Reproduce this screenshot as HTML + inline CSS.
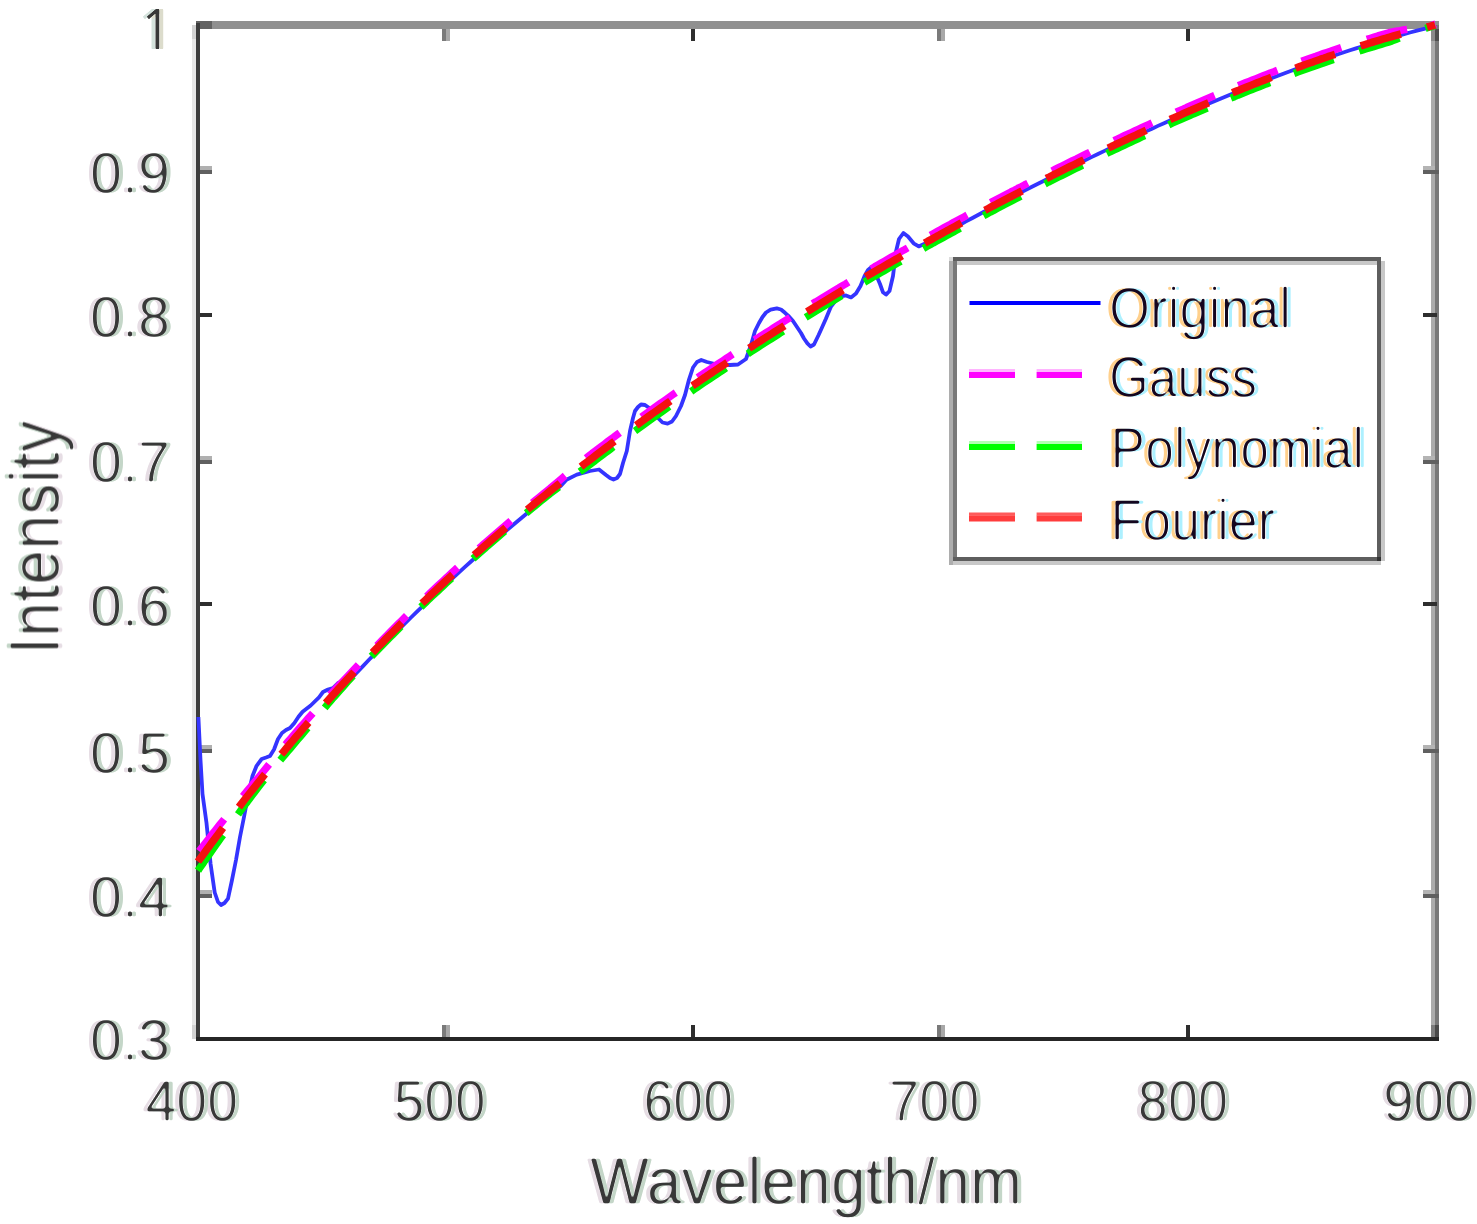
<!DOCTYPE html>
<html><head><meta charset="utf-8"><title>Intensity vs Wavelength</title>
<style>
html,body{margin:0;padding:0;background:#fff;}
body{width:1477px;height:1224px;overflow:hidden;}
svg{display:block;font-family:"Liberation Sans",Arial,sans-serif;}
text{stroke:none;}
.tk{font-size:57.6px;fill:#3a3a3a;stroke-width:1.3px;}
.ax{font-size:67px;fill:#404040;stroke-width:1.9px;}
.lg{font-size:56.8px;fill:#14061f;stroke-width:1.1px;}
</style></head><body>
<svg width="1477" height="1224" viewBox="0 0 1477 1224">
<rect width="1477" height="1224" fill="#fff"/>
<defs>
<filter id="ctL" x="-4%" y="-15%" width="108%" height="130%" color-interpolation-filters="sRGB">
<feGaussianBlur in="SourceAlpha" stdDeviation="0.8" result="b"/>
<feComponentTransfer in="b" result="thin"><feFuncA type="linear" slope="4" intercept="-2.45"/></feComponentTransfer>
<feFlood flood-color="#14061f" result="fc"/><feComposite in="fc" in2="thin" operator="in" result="glyph"/>
<feFlood flood-color="#ffd08c" result="fl"/><feComposite in="fl" in2="thin" operator="in" result="l0"/><feOffset in="l0" dx="-4" dy="0" result="l1"/>
<feFlood flood-color="#adf0ff" result="fr"/><feComposite in="fr" in2="thin" operator="in" result="r0"/><feOffset in="r0" dx="4" dy="0" result="r1"/>
<feMerge><feMergeNode in="l1"/><feMergeNode in="r1"/><feMergeNode in="glyph"/></feMerge>
</filter>
<filter id="ctT" x="-8%" y="-15%" width="116%" height="130%" color-interpolation-filters="sRGB">
<feGaussianBlur in="SourceAlpha" stdDeviation="0.9" result="b"/>
<feComponentTransfer in="b" result="thin"><feFuncA type="linear" slope="4" intercept="-2.35"/></feComponentTransfer>
<feFlood flood-color="#383838" result="fc"/><feComposite in="fc" in2="thin" operator="in" result="glyph"/>
<feFlood flood-color="#e6dde4" result="fl"/><feComposite in="fl" in2="thin" operator="in" result="l0"/><feOffset in="l0" dx="-4" dy="0" result="l1"/>
<feFlood flood-color="#c4d6c8" result="fr"/><feComposite in="fr" in2="thin" operator="in" result="r0"/><feOffset in="r0" dx="4" dy="0" result="r1"/>
<feMerge><feMergeNode in="l1"/><feMergeNode in="r1"/><feMergeNode in="glyph"/></feMerge>
</filter>
<filter id="ctV" x="-4%" y="-20%" width="108%" height="140%" color-interpolation-filters="sRGB">
<feGaussianBlur in="SourceAlpha" stdDeviation="0.9" result="b"/>
<feComponentTransfer in="b" result="thin"><feFuncA type="linear" slope="4" intercept="-2.35"/></feComponentTransfer>
<feFlood flood-color="#383838" result="fc"/><feComposite in="fc" in2="thin" operator="in" result="glyph"/>
<feFlood flood-color="#e6dde4" result="fl"/><feComposite in="fl" in2="thin" operator="in" result="l0"/><feOffset in="l0" dx="0" dy="4" result="l1"/>
<feFlood flood-color="#c4d6c8" result="fr"/><feComposite in="fr" in2="thin" operator="in" result="r0"/><feOffset in="r0" dx="0" dy="-4" result="r1"/>
<feMerge><feMergeNode in="l1"/><feMergeNode in="r1"/><feMergeNode in="glyph"/></feMerge>
</filter>
<filter id="ct1" x="-60%" y="-15%" width="220%" height="130%" color-interpolation-filters="sRGB">
<feGaussianBlur in="SourceAlpha" stdDeviation="0.3" result="b"/>
<feComponentTransfer in="b" result="thin"><feFuncA type="linear" slope="1.3" intercept="-0.1"/></feComponentTransfer>
<feFlood flood-color="#383838" result="fc"/><feComposite in="fc" in2="thin" operator="in" result="glyph"/>
<feFlood flood-color="#d4e2dc" result="fl"/><feComposite in="fl" in2="thin" operator="in" result="l0"/><feOffset in="l0" dx="-4" dy="0" result="l1"/>
<feFlood flood-color="#dcdccc" result="fr"/><feComposite in="fr" in2="thin" operator="in" result="r0"/><feOffset in="r0" dx="4" dy="0" result="r1"/>
<feMerge><feMergeNode in="l1"/><feMergeNode in="r1"/><feMergeNode in="glyph"/></feMerge>
</filter>
</defs>
<g id="plot" >

<g shape-rendering="crispEdges">
<rect x="198" y="21" width="1241" height="8" fill="#909090"/>
<rect x="196" y="21" width="16" height="8" fill="#636363"/>
<rect x="1431" y="25" width="4" height="1014" fill="#ababab"/>
<rect x="1435" y="25" width="4" height="1016" fill="#787878"/>
<rect x="192" y="25" width="4" height="1014" fill="#e6e6e6"/>
<rect x="196" y="23" width="4" height="1018" fill="#3c3c3c"/>
<rect x="196" y="1037" width="1243" height="4" fill="#262626"/>
<rect x="1431" y="1025" width="4" height="12" fill="#7c7c7c"/><rect x="1435" y="1025" width="4" height="12" fill="#4a4a4a"/>
<rect x="1431" y="29" width="4" height="12" fill="#8a8a8a"/><rect x="1435" y="29" width="4" height="12" fill="#4e4e4e"/>
<rect x="192" y="1025" width="4" height="14" fill="#d2d2d2"/><rect x="192" y="25" width="4" height="14" fill="#d2d2d2"/>
<rect x="442" y="1025" width="4" height="12" fill="#7a7a7a"/><rect x="446" y="1025" width="4" height="12" fill="#a8a8a8"/>
<rect x="442" y="29" width="4" height="12" fill="#7a7a7a"/><rect x="446" y="29" width="4" height="12" fill="#a8a8a8"/>
<rect x="691" y="1025" width="4" height="12" fill="#2e2e2e"/>
<rect x="691" y="29" width="4" height="12" fill="#2e2e2e"/>
<rect x="937" y="1025" width="4" height="12" fill="#7a7a7a"/><rect x="941" y="1025" width="4" height="12" fill="#a8a8a8"/>
<rect x="937" y="29" width="4" height="12" fill="#7a7a7a"/><rect x="941" y="29" width="4" height="12" fill="#a8a8a8"/>
<rect x="1186" y="1025" width="4" height="12" fill="#2e2e2e"/>
<rect x="1186" y="29" width="4" height="12" fill="#2e2e2e"/>
<rect x="200" y="166" width="12" height="4" fill="#b0b0b0"/><rect x="200" y="170" width="12" height="4" fill="#606060"/>
<rect x="1423" y="166" width="12" height="4" fill="#b4b4b4"/><rect x="1423" y="170" width="16" height="4" fill="#606060"/>
<rect x="200" y="313" width="12" height="4" fill="#2e2e2e"/>
<rect x="1423" y="313" width="14" height="4" fill="#2e2e2e"/>
<rect x="200" y="456" width="12" height="4" fill="#b0b0b0"/><rect x="200" y="460" width="12" height="4" fill="#606060"/>
<rect x="1423" y="456" width="12" height="4" fill="#b4b4b4"/><rect x="1423" y="460" width="16" height="4" fill="#606060"/>
<rect x="200" y="602" width="12" height="4" fill="#2e2e2e"/>
<rect x="1423" y="602" width="14" height="4" fill="#2e2e2e"/>
<rect x="200" y="745" width="12" height="4" fill="#b0b0b0"/><rect x="200" y="749" width="12" height="4" fill="#606060"/>
<rect x="1423" y="745" width="12" height="4" fill="#b4b4b4"/><rect x="1423" y="749" width="16" height="4" fill="#606060"/>
<rect x="200" y="890" width="12" height="4" fill="#b0b0b0"/><rect x="200" y="894" width="12" height="4" fill="#606060"/>
<rect x="1423" y="890" width="12" height="4" fill="#b4b4b4"/><rect x="1423" y="894" width="16" height="4" fill="#606060"/>
</g>
<g fill="none" stroke-linejoin="round">
<path d="M198.4,717.0 L200.5,760.0 L202.5,794.0 L206.5,823.0 L210.6,864.0 L214.7,892.5 L218.0,902.0 L221.0,905.0 L224.5,903.0 L228.0,898.6 L232.0,880.0 L236.0,860.0 L240.0,837.0 L244.0,817.0 L248.4,794.0 L252.5,776.0 L256.6,765.8 L261.7,759.0 L266.0,757.5 L270.0,756.0 L274.0,749.5 L278.0,739.0 L282.0,733.0 L286.0,730.0 L290.0,728.0 L294.4,723.0 L298.5,716.8 L302.6,711.7 L310.7,705.5 L319.0,697.4 L323.0,692.0 L328.0,689.5 L333.0,688.0 L338.0,683.0 L345.0,685.3 L351.0,678.8 L357.0,672.4 L363.0,666.1 L369.0,659.8 L375.0,653.6 L381.0,647.5 L387.0,641.4 L393.0,635.3 L399.0,629.3 L405.0,623.4 L411.0,617.5 L417.0,611.7 L423.0,605.9 L429.0,600.2 L435.0,594.5 L441.0,588.9 L447.0,583.3 L453.0,577.8 L459.0,572.3 L465.0,566.9 L471.0,561.5 L477.0,556.2 L483.0,550.9 L489.0,545.6 L495.0,540.4 L501.0,535.2 L507.0,530.1 L513.0,525.0 L519.0,520.0 L525.0,515.0 L531.0,510.0 L537.0,505.1 L543.0,500.2 L549.0,495.4 L555.0,490.6 L561.0,485.8 L566.5,479.7 L576.8,474.6 L590.0,471.0 L599.0,469.5 L606.0,475.0 L610.0,478.0 L613.5,479.5 L617.0,478.0 L620.0,474.0 L623.0,463.0 L626.8,451.0 L630.0,431.0 L633.0,418.0 L635.0,411.0 L638.0,407.0 L641.0,404.5 L645.0,405.0 L650.0,408.5 L656.0,416.0 L662.5,422.5 L667.6,423.6 L672.0,421.5 L676.0,416.0 L681.0,406.0 L685.0,395.0 L689.0,379.6 L693.0,367.5 L697.0,362.0 L701.3,360.0 L707.0,362.0 L715.0,364.0 L730.0,365.0 L738.0,364.5 L746.0,359.0 L751.0,345.0 L755.0,331.0 L759.0,323.0 L762.5,317.0 L766.0,312.5 L770.6,309.7 L776.8,308.4 L781.0,309.5 L785.0,312.8 L789.0,316.5 L793.0,321.0 L797.0,327.0 L801.0,333.0 L804.0,338.5 L807.4,343.4 L810.5,346.5 L814.0,344.5 L818.6,335.0 L822.0,327.5 L825.8,319.0 L831.0,306.6 L836.0,300.0 L841.0,296.5 L846.0,295.4 L851.0,297.4 L856.0,293.5 L860.5,286.0 L864.6,276.0 L868.0,270.0 L871.0,267.5 L874.0,270.0 L877.0,277.0 L880.0,284.0 L883.0,292.3 L886.0,294.6 L889.5,291.0 L893.0,276.0 L896.0,251.5 L899.0,239.0 L903.4,233.0 L908.0,236.5 L913.6,243.3 L918.7,246.4 L924.0,244.0 L930.0,241.1 L936.0,237.8 L942.0,234.5 L948.0,231.2 L954.0,227.9 L960.0,224.7 L966.0,221.4 L972.0,218.2 L978.0,215.0 L984.0,211.8 L990.0,208.6 L996.0,205.4 L1002.0,202.3 L1008.0,199.2 L1014.0,196.0 L1020.0,192.9 L1026.0,189.8 L1032.0,186.8 L1038.0,183.7 L1044.0,180.7 L1050.0,177.6 L1056.0,174.6 L1062.0,171.6 L1068.0,168.6 L1074.0,165.7 L1080.0,162.7 L1086.0,159.8 L1092.0,156.9 L1098.0,154.0 L1104.0,151.1 L1110.0,148.2 L1116.0,145.4 L1122.0,142.6 L1128.0,139.7 L1134.0,136.9 L1140.0,134.2 L1146.0,131.4 L1152.0,128.7 L1158.0,125.9 L1164.0,123.2 L1170.0,120.5 L1176.0,117.9 L1182.0,115.2 L1188.0,112.6 L1194.0,110.0 L1200.0,107.4 L1206.0,104.8 L1212.0,102.3 L1218.0,99.8 L1224.0,97.3 L1230.0,94.8 L1236.0,92.3 L1242.0,89.9 L1248.0,87.5 L1254.0,85.1 L1260.0,82.7 L1266.0,80.4 L1272.0,78.1 L1278.0,75.8 L1284.0,73.5 L1290.0,71.3 L1296.0,69.0 L1302.0,66.9 L1308.0,64.7 L1314.0,62.6 L1320.0,60.4 L1326.0,58.4 L1332.0,56.3 L1338.0,54.3 L1344.0,52.3 L1350.0,50.3 L1356.0,48.4 L1362.0,46.5 L1368.0,44.6 L1374.0,42.8 L1380.0,41.0 L1386.0,39.2 L1392.0,37.5 L1398.0,35.8 L1404.0,34.1 L1410.0,32.5 L1416.0,30.9 L1422.0,29.3 L1428.0,27.8 L1434.0,26.3 L1435.0,26.0" stroke="#3434ff" stroke-width="3.8"/>
<path d="M199.2,851.2 L201.4,848.2 L203.7,845.3 L205.9,842.4 L208.2,839.5 L210.5,836.5 L212.7,833.6 L215.0,830.7 L217.3,827.8 L219.6,824.9 L221.9,822.1 L224.2,819.2 M242.9,796.2 L245.2,793.3 L247.6,790.5 L250.0,787.7 L252.3,784.8 L254.7,782.0 L257.1,779.2 L259.5,776.3 L261.9,773.3 L264.3,770.3 L266.7,767.4 L269.1,764.4 M285.5,744.6 L287.9,741.7 L290.4,738.8 L292.9,735.9 L295.3,733.0 L297.8,730.1 L300.3,727.2 L302.8,724.4 L305.3,721.6 L307.8,718.8 L310.3,716.1 L312.8,713.3 M330.0,694.7 L332.6,692.0 L335.2,689.3 L337.7,686.6 L340.3,683.9 L342.9,681.2 L345.5,678.5 L348.1,675.8 L350.7,673.1 L353.3,670.3 L355.9,667.5 L358.5,664.7 M377.0,645.5 L379.7,642.7 L382.3,640.0 L385.0,637.3 L387.7,634.6 L390.4,631.8 L393.1,629.1 L395.8,626.4 L398.5,623.7 L401.2,621.1 L403.9,618.4 L406.6,615.7 M426.7,596.3 L429.5,593.6 L432.3,591.0 L435.0,588.4 L437.8,585.8 L440.6,583.2 L443.4,580.6 L446.2,578.0 L449.0,575.4 L451.8,572.8 L454.6,570.2 L457.5,567.6 M479.0,548.3 L481.9,545.8 L484.7,543.2 L487.6,540.7 L490.5,538.2 L493.4,535.7 L496.3,533.2 L499.2,530.7 L502.1,528.2 L505.0,525.8 L507.9,523.3 L510.8,520.8 M532.3,502.8 L535.3,500.4 L538.2,498.0 L541.2,495.6 L544.2,493.2 L547.1,490.8 L550.1,488.4 L553.1,485.8 L556.1,483.3 L559.1,480.8 L562.1,478.2 L565.1,475.7 M586.1,458.2 L589.2,455.7 L592.2,453.3 L595.3,451.0 L598.3,448.7 L601.3,446.4 L604.4,444.1 L607.4,441.8 L610.5,439.5 L613.6,437.3 L616.6,435.0 L619.7,432.7 M641.5,416.9 L644.6,414.6 L647.7,412.4 L650.8,410.2 L653.9,408.0 L657.0,405.8 L660.1,403.6 L663.2,401.4 L666.4,399.2 L669.5,397.0 L672.6,394.8 L675.8,392.6 M697.8,377.5 L700.9,375.3 L704.1,373.2 L707.3,371.1 L710.4,369.0 L713.6,366.8 L716.8,364.7 L720.0,362.6 L723.2,360.5 L726.3,358.4 L729.5,356.3 L732.7,354.2 M754.6,340.0 L757.8,338.0 L761.0,335.9 L764.2,333.9 L767.4,331.8 L770.7,329.8 L773.9,327.7 L777.1,325.7 L780.4,323.7 L783.6,321.6 L786.8,319.6 L790.1,317.6 M812.5,303.7 L815.8,301.8 L819.1,299.8 L822.3,297.8 L825.6,295.8 L828.9,293.8 L832.1,291.9 L835.4,289.9 L838.7,288.0 L842.0,286.0 L845.3,284.1 L848.5,282.1 M871.3,268.8 L874.6,266.8 L877.9,264.9 L881.2,263.0 L884.5,261.1 L887.8,259.2 L891.1,257.3 L894.5,255.4 L897.8,253.5 L901.1,251.6 L904.4,249.8 L907.7,247.9 M930.4,235.2 L933.7,233.4 L937.1,231.5 L940.4,229.7 L943.8,227.8 L947.1,226.0 L950.5,224.2 L953.8,222.3 L957.2,220.5 L960.5,218.7 L963.9,216.9 L967.2,215.1 M990.6,202.6 L994.0,200.8 L997.4,199.0 L1000.8,197.2 L1004.1,195.5 L1007.5,193.7 L1010.9,191.9 L1014.3,190.2 L1017.7,188.4 L1021.1,186.7 L1024.5,184.9 L1027.9,183.2 M1052.1,170.9 L1055.5,169.1 L1059.0,167.4 L1062.4,165.7 L1065.8,164.0 L1069.2,162.3 L1072.6,160.6 L1076.1,159.0 L1079.5,157.3 L1082.9,155.6 L1086.4,153.9 L1089.8,152.2 M1114.0,140.6 L1117.4,139.0 L1120.9,137.4 L1124.4,135.7 L1127.8,134.1 L1131.3,132.5 L1134.7,130.9 L1138.2,129.3 L1141.7,127.7 L1145.1,126.1 L1148.6,124.5 L1152.1,122.9 M1176.1,112.2 L1179.6,110.6 L1183.1,109.1 L1186.6,107.5 L1190.1,106.0 L1193.6,104.5 L1197.1,103.0 L1200.6,101.5 L1204.1,100.0 L1207.6,98.5 L1211.1,97.0 L1214.6,95.5 M1238.3,85.7 L1241.9,84.2 L1245.4,82.8 L1249.0,81.4 L1252.5,80.0 L1256.1,78.6 L1259.6,77.2 L1263.2,75.8 L1266.7,74.4 L1270.3,73.0 L1273.9,71.7 L1277.4,70.3 M1301.6,61.3 L1305.2,60.0 L1308.7,58.7 L1312.3,57.4 L1315.9,56.2 L1319.5,54.9 L1323.2,53.6 L1326.8,52.4 L1330.4,51.2 L1334.0,49.9 L1337.6,48.7 L1341.2,47.5 M1366.8,39.3 L1370.5,38.2 L1374.1,37.1 L1377.8,35.9 L1381.4,34.9 L1385.1,33.8 L1388.8,32.7 L1392.4,31.9 L1396.1,31.2 L1399.8,30.6 L1403.5,29.9 L1407.1,29.3 M1433.3,24.8 L1433.4,24.7 L1433.6,24.7 L1433.7,24.6 L1433.9,24.6 L1434.1,24.6 L1434.2,24.5 L1434.4,24.5 L1434.5,24.4 L1434.7,24.4 L1434.8,24.4 L1435.0,24.3" stroke="#ff00ff" stroke-width="7.4"/>
<path d="M198.0,870.6 L200.2,867.3 L202.5,864.1 L204.7,860.8 L207.0,857.6 L209.3,854.3 L211.5,851.1 L213.8,847.9 L216.1,844.7 L218.4,841.4 L220.7,838.2 L223.0,835.0 M238.0,814.4 L240.3,811.2 L242.6,808.0 L245.0,804.8 L247.4,801.7 L249.7,798.5 L252.1,795.3 L254.5,792.2 L256.9,789.0 L259.2,786.0 L261.6,783.0 L264.0,780.0 M280.3,760.2 L282.8,757.2 L285.2,754.3 L287.7,751.4 L290.2,748.5 L292.6,745.6 L295.1,742.6 L297.6,739.7 L300.1,736.8 L302.6,733.8 L305.1,730.9 L307.6,727.9 M324.7,707.8 L327.2,704.8 L329.8,701.9 L332.3,698.9 L334.9,696.0 L337.5,693.1 L340.1,690.1 L342.7,687.2 L345.2,684.3 L347.8,681.4 L350.4,678.5 L353.0,675.7 M371.4,656.4 L374.1,653.6 L376.8,650.9 L379.4,648.2 L382.1,645.4 L384.8,642.7 L387.5,640.0 L390.1,637.3 L392.8,634.6 L395.5,631.9 L398.2,629.2 L400.9,626.5 M420.9,607.0 L423.7,604.3 L426.5,601.7 L429.2,599.0 L432.0,596.4 L434.8,593.8 L437.6,591.2 L440.4,588.6 L443.1,586.0 L445.9,583.4 L448.7,580.8 L451.6,578.2 M473.0,558.8 L475.9,556.2 L478.7,553.7 L481.6,551.2 L484.5,548.7 L487.3,546.1 L490.2,543.6 L493.1,541.1 L496.0,538.6 L498.9,536.1 L501.8,533.7 L504.7,531.2 M526.2,513.1 L529.1,510.7 L532.1,508.2 L535.0,505.8 L538.0,503.4 L540.9,501.0 L543.9,498.6 L546.9,496.2 L549.8,493.8 L552.8,491.6 L555.8,489.3 L558.8,487.1 M579.8,471.7 L582.8,469.6 L585.9,467.4 L588.9,465.2 L591.9,463.0 L595.0,460.7 L598.0,458.3 L601.1,456.0 L604.1,453.7 L607.2,451.5 L610.2,449.2 L613.3,446.9 M635.0,430.9 L638.1,428.7 L641.2,426.5 L644.3,424.2 L647.4,422.0 L650.5,419.8 L653.6,417.6 L656.7,415.4 L659.8,413.2 L662.9,411.0 L666.1,408.8 L669.2,406.6 M691.2,391.4 L694.3,389.2 L697.5,387.1 L700.6,385.0 L703.8,382.8 L707.0,380.7 L710.1,378.6 L713.3,376.4 L716.5,374.3 L719.7,372.2 L722.9,370.1 L726.0,368.0 M747.8,353.8 L751.0,351.7 L754.3,349.6 L757.5,347.6 L760.7,345.5 L763.9,343.4 L767.1,341.4 L770.4,339.4 L773.6,337.3 L776.8,335.3 L780.0,333.2 L783.3,331.2 M805.7,317.3 L809.0,315.3 L812.2,313.3 L815.5,311.3 L818.8,309.4 L822.0,307.4 L825.3,305.4 L828.6,303.4 L831.8,301.5 L835.1,299.5 L838.4,297.5 L841.7,295.6 M864.4,282.2 L867.7,280.3 L871.0,278.3 L874.3,276.4 L877.6,274.5 L880.9,272.6 L884.2,270.7 L887.5,268.8 L890.8,266.9 L894.1,265.0 L897.5,263.1 L900.8,261.2 M923.4,248.5 L926.7,246.6 L930.1,244.8 L933.4,242.9 L936.7,241.1 L940.1,239.2 L943.4,237.4 L946.8,235.6 L950.1,233.7 L953.5,231.9 L956.8,230.1 L960.2,228.3 M983.6,215.7 L986.9,213.9 L990.3,212.1 L993.7,210.4 L997.1,208.6 L1000.4,206.8 L1003.8,205.0 L1007.2,203.3 L1010.6,201.5 L1014.0,199.7 L1017.4,198.0 L1020.8,196.2 M1045.0,183.9 L1048.4,182.1 L1051.8,180.4 L1055.2,178.7 L1058.6,177.0 L1062.1,175.3 L1065.5,173.6 L1068.9,171.9 L1072.3,170.2 L1075.7,168.5 L1079.2,166.8 L1082.6,165.2 M1106.8,153.5 L1110.2,151.8 L1113.7,150.2 L1117.1,148.6 L1120.6,146.9 L1124.0,145.3 L1127.5,143.7 L1130.9,142.1 L1134.4,140.5 L1137.9,138.8 L1141.3,137.2 L1144.8,135.7 M1168.8,124.8 L1172.2,123.2 L1175.7,121.7 L1179.2,120.2 L1182.7,118.6 L1186.2,117.1 L1189.7,115.6 L1193.2,114.0 L1196.7,112.5 L1200.2,111.0 L1203.7,109.5 L1207.3,108.0 M1230.9,98.1 L1234.5,96.7 L1238.0,95.2 L1241.6,93.8 L1245.1,92.4 L1248.6,90.9 L1252.2,89.5 L1255.7,88.1 L1259.3,86.7 L1262.8,85.3 L1266.4,83.9 L1270.0,82.6 M1294.0,73.5 L1297.6,72.1 L1301.2,70.8 L1304.8,69.5 L1308.4,68.2 L1312.0,67.0 L1315.6,65.7 L1319.2,64.4 L1322.8,63.2 L1326.4,61.9 L1330.0,60.7 L1333.6,59.5 M1359.2,51.1 L1362.8,49.9 L1366.5,48.8 L1370.1,47.7 L1373.8,46.6 L1377.4,45.5 L1381.1,44.4 L1384.7,43.3 L1388.4,42.2 L1392.1,40.9 L1395.7,39.5 L1399.4,38.1 M1425.5,28.4 L1426.4,28.1 L1427.2,27.8 L1428.1,27.5 L1429.0,27.2 L1429.8,27.0 L1430.7,26.8 L1431.5,26.6 L1432.4,26.4 L1433.3,26.2 L1434.1,26.0 L1435.0,25.7" stroke="#00f000" stroke-width="7.4"/>
<path d="M198.0,861.6 L200.2,858.5 L202.5,855.4 L204.7,852.4 L207.0,849.3 L209.3,846.2 L211.5,843.1 L213.8,840.1 L216.1,837.0 L218.4,833.9 L220.7,830.9 L223.0,827.8 M238.9,807.1 L241.2,804.1 L243.6,801.0 L245.9,798.0 L248.3,795.0 L250.7,792.0 L253.0,789.1 L255.4,786.1 L257.8,783.1 L260.2,780.1 L262.6,777.1 L265.0,774.2 M281.3,754.3 L283.8,751.4 L286.2,748.5 L288.7,745.5 L291.1,742.6 L293.6,739.7 L296.1,736.8 L298.6,733.9 L301.1,731.0 L303.6,728.1 L306.1,725.2 L308.6,722.4 M325.7,703.0 L328.2,700.2 L330.8,697.3 L333.4,694.5 L335.9,691.7 L338.5,688.8 L341.1,686.0 L343.7,683.2 L346.3,680.4 L348.9,677.6 L351.5,674.8 L354.1,672.0 M372.5,652.7 L375.1,650.0 L377.8,647.2 L380.5,644.5 L383.1,641.8 L385.8,639.0 L388.5,636.3 L391.2,633.6 L393.9,630.9 L396.6,628.2 L399.3,625.5 L402.0,622.8 M422.0,603.3 L424.8,600.7 L427.6,598.1 L430.3,595.4 L433.1,592.8 L435.9,590.2 L438.7,587.6 L441.4,585.0 L444.2,582.4 L447.0,579.8 L449.8,577.2 L452.7,574.6 M474.1,555.2 L477.0,552.7 L479.9,550.1 L482.7,547.6 L485.6,545.1 L488.5,542.6 L491.3,540.1 L494.2,537.6 L497.1,535.1 L500.0,532.6 L502.9,530.1 L505.8,527.6 M527.3,509.6 L530.3,507.1 L533.2,504.7 L536.2,502.3 L539.1,499.9 L542.1,497.5 L545.1,495.1 L548.0,492.7 L551.0,490.3 L554.0,487.9 L557.0,485.5 L560.0,483.1 M581.0,466.7 L584.0,464.3 L587.1,462.0 L590.1,459.7 L593.1,457.4 L596.2,455.0 L599.2,452.7 L602.2,450.4 L605.3,448.1 L608.4,445.9 L611.4,443.6 L614.5,441.3 M636.2,425.4 L639.3,423.1 L642.4,420.9 L645.5,418.7 L648.6,416.4 L651.7,414.2 L654.8,412.0 L657.9,409.8 L661.0,407.6 L664.2,405.4 L667.3,403.2 L670.4,401.0 M692.4,385.8 L695.6,383.7 L698.7,381.6 L701.9,379.4 L705.1,377.3 L708.2,375.1 L711.4,373.0 L714.6,370.9 L717.7,368.8 L720.9,366.7 L724.1,364.6 L727.3,362.5 M749.1,348.2 L752.3,346.2 L755.5,344.1 L758.7,342.1 L761.9,340.0 L765.2,337.9 L768.4,335.9 L771.6,333.9 L774.8,331.8 L778.1,329.8 L781.3,327.8 L784.5,325.7 M807.0,311.8 L810.3,309.8 L813.5,307.8 L816.8,305.9 L820.0,303.9 L823.3,301.9 L826.6,299.9 L829.8,298.0 L833.1,296.0 L836.4,294.0 L839.7,292.1 L843.0,290.1 M865.7,276.7 L869.0,274.8 L872.3,272.9 L875.6,271.0 L878.9,269.1 L882.2,267.2 L885.5,265.3 L888.8,263.4 L892.1,261.5 L895.4,259.6 L898.8,257.7 L902.1,255.8 M924.7,243.1 L928.0,241.2 L931.4,239.4 L934.7,237.5 L938.1,235.7 L941.4,233.8 L944.7,232.0 L948.1,230.2 L951.4,228.3 L954.8,226.5 L958.2,224.7 L961.5,222.9 M984.9,210.3 L988.3,208.5 L991.6,206.7 L995.0,205.0 L998.4,203.2 L1001.8,201.4 L1005.2,199.6 L1008.5,197.9 L1011.9,196.1 L1015.3,194.3 L1018.7,192.6 L1022.1,190.8 M1046.3,178.5 L1049.7,176.8 L1053.1,175.0 L1056.6,173.3 L1060.0,171.6 L1063.4,169.9 L1066.8,168.2 L1070.2,166.5 L1073.7,164.8 L1077.1,163.2 L1080.5,161.5 L1083.9,159.8 M1108.1,148.1 L1111.6,146.5 L1115.0,144.8 L1118.5,143.2 L1121.9,141.6 L1125.4,140.0 L1128.8,138.3 L1132.3,136.7 L1135.8,135.1 L1139.2,133.5 L1142.7,131.9 L1146.2,130.3 M1170.1,119.5 L1173.6,117.9 L1177.1,116.4 L1180.6,114.9 L1184.1,113.3 L1187.6,111.8 L1191.1,110.3 L1194.6,108.7 L1198.1,107.2 L1201.6,105.7 L1205.1,104.2 L1208.6,102.7 M1232.3,92.8 L1235.9,91.4 L1239.4,90.0 L1242.9,88.5 L1246.5,87.1 L1250.0,85.7 L1253.6,84.3 L1257.1,82.9 L1260.7,81.5 L1264.2,80.1 L1267.8,78.7 L1271.4,77.3 M1295.5,68.2 L1299.0,66.9 L1302.6,65.6 L1306.2,64.3 L1309.8,63.0 L1313.4,61.8 L1317.0,60.5 L1320.6,59.2 L1324.2,58.0 L1327.8,56.7 L1331.4,55.5 L1335.1,54.3 M1360.6,45.9 L1364.3,44.8 L1367.9,43.7 L1371.5,42.5 L1375.2,41.4 L1378.9,40.3 L1382.5,39.2 L1386.2,38.2 L1389.8,37.1 L1393.5,36.0 L1397.2,35.0 L1400.9,34.0 M1427.0,27.0 L1427.7,26.8 L1428.4,26.7 L1429.2,26.5 L1429.9,26.3 L1430.6,26.1 L1431.3,25.9 L1432.1,25.8 L1432.8,25.6 L1433.5,25.4 L1434.3,25.2 L1435.0,25.0" stroke="#f41010" stroke-width="7.6"/>
</g>
<g>
<g shape-rendering="crispEdges">
<rect x="953" y="257" width="428" height="304" fill="#fff"/>
<rect x="949" y="261" width="4" height="304" fill="#adadad"/>
<rect x="949" y="257" width="4" height="4" fill="#dcdcdc"/>
<rect x="953" y="261" width="4" height="300" fill="#787878"/>
<rect x="957" y="261" width="420" height="4" fill="#c8c8c8"/>
<rect x="953" y="257" width="428" height="4" fill="#5e5e5e"/>
<rect x="1381" y="261" width="4" height="300" fill="#c8c8c8"/>
<rect x="1377" y="261" width="4" height="300" fill="#5e5e5e"/>
<rect x="953" y="561" width="428" height="4" fill="#c8c8c8"/>
<rect x="953" y="557" width="428" height="4" fill="#5e5e5e"/>
<rect x="1377" y="557" width="4" height="4" fill="#333"/>
</g>
<line x1="969.5" y1="303" x2="1100.5" y2="303" stroke="#0000ff" stroke-width="4.2"/>
<rect x="969" y="369" width="46.0" height="3.2" fill="#ffb4ff"/><rect x="969" y="372" width="46.0" height="6" fill="#ff00ff"/>
<rect x="1036.6" y="369" width="45.4" height="3.2" fill="#ffb4ff"/><rect x="1036.6" y="372" width="45.4" height="6" fill="#ff00ff"/>
<rect x="969" y="441" width="46.0" height="3.2" fill="#b4ffb4"/><rect x="969" y="444" width="46.0" height="6" fill="#00ff00"/>
<rect x="1036.6" y="441" width="45.4" height="3.2" fill="#b4ffb4"/><rect x="1036.6" y="444" width="45.4" height="6" fill="#00ff00"/>
<rect x="969" y="512.5" width="46.0" height="3.2" fill="#ff5a5a"/><rect x="969" y="515.5" width="46.0" height="6" fill="#ff3c3c"/>
<rect x="1036.6" y="512.5" width="45.4" height="3.2" fill="#ff5a5a"/><rect x="1036.6" y="515.5" width="45.4" height="6" fill="#ff3c3c"/>
<text class="lg" filter="url(#ctL)" x="1109" y="328.4" textLength="182" lengthAdjust="spacingAndGlyphs">Original</text>
<text class="lg" filter="url(#ctL)" x="1109" y="396.6" textLength="148" lengthAdjust="spacingAndGlyphs">Gauss</text>
<text class="lg" filter="url(#ctL)" x="1110.6" y="467.5" textLength="253.4000000000001" lengthAdjust="spacingAndGlyphs">Polynomial</text>
<text class="lg" filter="url(#ctL)" x="1110.6" y="539.6" textLength="164.4000000000001" lengthAdjust="spacingAndGlyphs">Fourier</text>
</g>
<text class="tk" filter="url(#ctT)" x="145.5" y="1121" textLength="92.5" lengthAdjust="spacingAndGlyphs">400</text>
<text class="tk" filter="url(#ctT)" x="393.7" y="1121" textLength="91.80000000000001" lengthAdjust="spacingAndGlyphs">500</text>
<text class="tk" filter="url(#ctT)" x="643.5" y="1121" textLength="89.5" lengthAdjust="spacingAndGlyphs">600</text>
<text class="tk" filter="url(#ctT)" x="889.0" y="1121" textLength="90.5" lengthAdjust="spacingAndGlyphs">700</text>
<text class="tk" filter="url(#ctT)" x="1137.8" y="1121" textLength="90.29999999999995" lengthAdjust="spacingAndGlyphs">800</text>
<text class="tk" filter="url(#ctT)" x="1383.2" y="1121" textLength="91.29999999999995" lengthAdjust="spacingAndGlyphs">900</text>
<text class="tk" filter="url(#ct1)" style="font-family:NanumGothic,'Liberation Sans',sans-serif;font-size:53.5px;stroke-width:0.5px" x="172" y="49" text-anchor="end">1</text>
<text class="tk" filter="url(#ctT)" x="90" y="193" textLength="80" lengthAdjust="spacingAndGlyphs">0.9</text>
<text class="tk" filter="url(#ctT)" x="90" y="337" textLength="80" lengthAdjust="spacingAndGlyphs">0.8</text>
<text class="tk" filter="url(#ctT)" x="90" y="482" textLength="80" lengthAdjust="spacingAndGlyphs">0.7</text>
<text class="tk" filter="url(#ctT)" x="90" y="626" textLength="80" lengthAdjust="spacingAndGlyphs">0.6</text>
<text class="tk" filter="url(#ctT)" x="90" y="773" textLength="80" lengthAdjust="spacingAndGlyphs">0.5</text>
<text class="tk" filter="url(#ctT)" x="90" y="917" textLength="80" lengthAdjust="spacingAndGlyphs">0.4</text>
<text class="tk" filter="url(#ctT)" x="90" y="1060" textLength="80" lengthAdjust="spacingAndGlyphs">0.3</text>
<text class="ax" filter="url(#ctT)" x="590" y="1204" textLength="432" lengthAdjust="spacingAndGlyphs">Wavelength/nm</text>
<text class="ax" filter="url(#ctV)" style="font-size:70.5px" transform="translate(59,654.5) rotate(-90)" x="0" y="0" textLength="234" lengthAdjust="spacingAndGlyphs">Intensity</text>
</g></svg></body></html>
